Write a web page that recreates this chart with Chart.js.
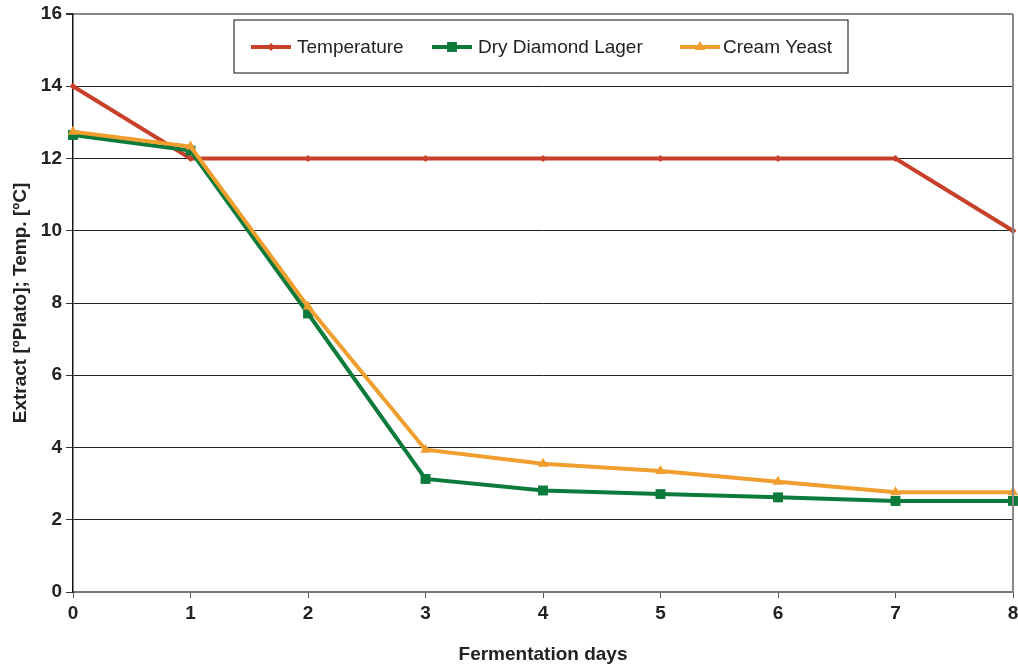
<!DOCTYPE html>
<html>
<head>
<meta charset="utf-8">
<script src="https://cdn.jsdelivr.net/npm/chart.js@4.4.1/dist/chart.umd.min.js"></script>
<style>
  body { margin: 0; background: #fff; }
  #wrap { width: 1018px; height: 666px; position: relative; }
</style>
</head>
<body>
<div id="wrap"><canvas id="chart"></canvas></div>
<script>
const days = ['0', '1', '2', '3', '4', '5', '6', '7', '8'];
const temperature = [14, 12, 12, 12, 12, 12, 12, 12, 10];
const dryDiamondLager = [12.65, 12.22, 7.71, 3.13, 2.81, 2.71, 2.62, 2.52, 2.52];
const creamYeast = [12.74, 12.33, 7.9, 3.94, 3.55, 3.35, 3.05, 2.76, 2.76];
const seriesNames = ['Temperature', 'Dry Diamond Lager', 'Cream Yeast'];

const RED = '#c9402a';
const GREEN = '#0b7a3b';
const ORANGE = '#f09e2e';
const FONT = '"Liberation Sans", Arial, sans-serif';

// legend box drawn inside the plot, like the Excel original
const legendBox = {
    id: 'legendBox',
    afterDraw(chart) {
        const ctx = chart.ctx;
        const area = chart.chartArea;
        ctx.save();
        // right frame of the plot
        ctx.strokeStyle = '#888';
        ctx.lineWidth = 2;
        ctx.beginPath();
        ctx.moveTo(area.right, area.top);
        ctx.lineTo(area.right, area.bottom);
        ctx.stroke();

        ctx.fillStyle = '#fff';
        ctx.fillRect(234, 20, 614, 53);
        ctx.strokeStyle = '#333';
        ctx.lineWidth = 1.2;
        ctx.strokeRect(234, 20, 614, 53);

        const items = [
            { x: 251, color: RED, style: 'rectRot', r: 4, textX: 297 },
            { x: 432, color: GREEN, style: 'rect', r: 7, textX: 478 },
            { x: 680, color: ORANGE, style: 'triangle', r: 6, textX: 723 }
        ];
        const y = 47;
        ctx.font = '19px ' + FONT;
        ctx.textBaseline = 'middle';
        items.forEach((it, i) => {
            ctx.strokeStyle = it.color;
            ctx.lineWidth = 4;
            ctx.beginPath();
            ctx.moveTo(it.x, y);
            ctx.lineTo(it.x + 40, y);
            ctx.stroke();
            ctx.fillStyle = it.color;
            Chart.helpers.drawPoint(ctx, { pointStyle: it.style, radius: it.r, borderWidth: 0 }, it.x + 20, y);
            ctx.fillStyle = '#222';
            ctx.fillText(seriesNames[i], it.textX, y + 1);
        });
        ctx.restore();
    }
};

new Chart(document.getElementById('chart'), {
    type: 'line',
    data: {
        labels: days,
        datasets: [
            {
                label: seriesNames[0],
                data: temperature,
                borderColor: RED,
                backgroundColor: RED,
                borderWidth: 4,
                pointStyle: 'rectRot',
                pointRadius: 3.5,
                pointBorderWidth: 0,
                tension: 0,
                order: 2
            },
            {
                label: seriesNames[1],
                data: dryDiamondLager,
                borderColor: GREEN,
                backgroundColor: GREEN,
                borderWidth: 4,
                pointStyle: 'rect',
                pointRadius: 7,
                pointBorderWidth: 0,
                tension: 0,
                order: 1
            },
            {
                label: seriesNames[2],
                data: creamYeast,
                borderColor: ORANGE,
                backgroundColor: ORANGE,
                borderWidth: 4,
                pointStyle: 'triangle',
                pointRadius: 6,
                pointBorderWidth: 0,
                tension: 0,
                order: 0
            }
        ]
    },
    options: {
        responsive: true,
        maintainAspectRatio: false,
        animation: false,
        layout: { autoPadding: false, padding: { top: 14, right: 5, left: 0, bottom: 0 } },
        plugins: {
            legend: { display: false },
            tooltip: { enabled: false }
        },
        scales: {
            x: {
                offset: false,
                afterFit: (scale) => {
                    scale.height = 74;
                    scale.paddingRight = 0;
                    if (scale._margins) scale._margins.right = 0;
                },
                border: { color: '#777', width: 2 },
                grid: {
                    drawOnChartArea: false,
                    drawTicks: true,
                    tickLength: 6,
                    tickColor: '#555'
                },
                ticks: {
                    color: '#222',
                    padding: 4,
                    maxRotation: 0,
                    font: { family: FONT, size: 19, weight: 'bold' }
                },
                title: {
                    display: true,
                    text: 'Fermentation days',
                    color: '#222',
                    padding: { top: 0, bottom: 0 },
                    font: { family: FONT, size: 19, weight: 'bold' }
                }
            },
            y: {
                min: 0,
                max: 16,
                afterFit: (scale) => {
                    scale.width = 73;
                    scale.paddingTop = 0;
                    if (scale._margins) scale._margins.top = 0;
                },
                border: { color: '#111', width: 1.5 },
                grid: {
                    color: (c) => c.tick && c.tick.value === 16 ? '#888' : '#222',
                    lineWidth: (c) => c.tick && c.tick.value === 16 ? 2 : 1,
                    tickLength: 7,
                    tickColor: '#333'
                },
                ticks: {
                    stepSize: 2,
                    color: '#222',
                    padding: 4,
                    font: { family: FONT, size: 19, weight: 'bold' }
                },
                title: {
                    display: true,
                    text: 'Extract [ºPlato]; Temp. [ºC]',
                    color: '#222',
                    padding: { top: 9, bottom: 0 },
                    font: { family: FONT, size: 19, weight: 'bold' }
                }
            }
        }
    },
    plugins: [legendBox]
});
</script>
</body>
</html>
